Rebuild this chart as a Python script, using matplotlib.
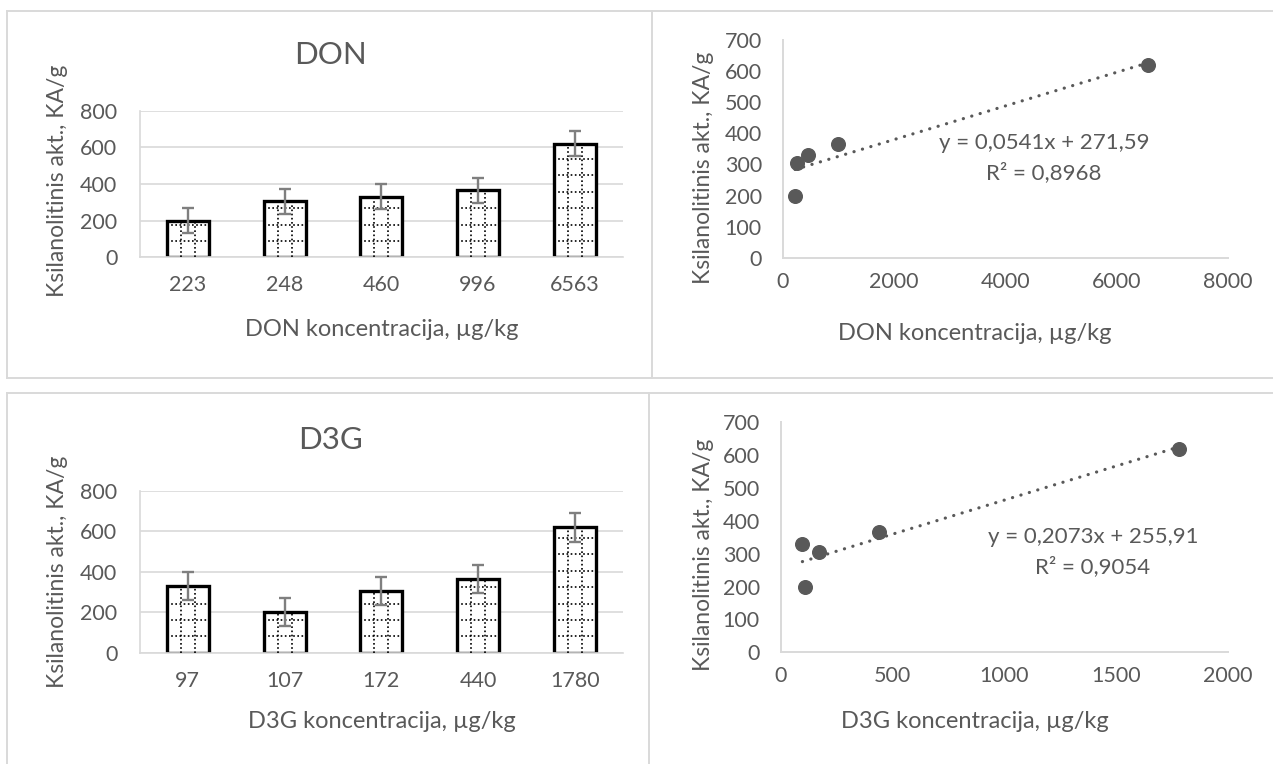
import numpy as np
import matplotlib
matplotlib.use("Agg")
import matplotlib.pyplot as plt
from matplotlib.lines import Line2D

# ---- data -------------------------------------------------------------
don_conc = [223, 248, 460, 996, 6563]
don_activity = [200, 305, 330, 365, 620]
don_err = [70, 68, 68, 70, 70]
don_fit = (0.0541, 271.59)
don_r2 = 0.8968

d3g_conc = [97, 107, 172, 440, 1780]
d3g_activity = [330, 200, 305, 365, 620]
d3g_err = [68, 70, 68, 70, 70]
d3g_fit = (0.2073, 255.91)
d3g_r2 = 0.9054

y_label = "Ksilanolitinis akt., KA/g"
bar_yticks = [0, 200, 400, 600, 800]
scatter_yticks = [0, 100, 200, 300, 400, 500, 600, 700]
don_xticks = [0, 2000, 4000, 6000, 8000]
d3g_xticks = [0, 500, 1000, 1500, 2000]

# ---- style ------------------------------------------------------------
W, H = 1273, 764
TEXT = "#595959"
GRID = "#d9d9d9"
plt.rcParams["font.family"] = ["Lato", "DejaVu Sans"]
TICK_FS = 15.5
LABEL_FS = 17
YLABEL_FS = 16.5
EQ_FS = 16
TITLE_FS = 22.5

fig = plt.figure(figsize=(W / 100, H / 100), dpi=100)
fig.patch.set_facecolor("white")


def fx(px):
    return px / W


def fy(py):
    return 1 - py / H


def add_axes(left, top, right, bottom):
    return fig.add_axes([fx(left), fy(bottom), fx(right) - fx(left), (bottom - top) / H])


def fig_line(x0, y0, x1, y1):
    fig.add_artist(Line2D([fx(x0), fx(x1)], [fy(y0), fy(y1)], color=GRID,
                          lw=1.4, transform=fig.transFigure))


# panel frames
fig_line(7, 11, W, 11)
fig_line(7, 11, 7, 378)
fig_line(7, 378, W, 378)
fig_line(652, 11, 652, 378)
fig_line(7, 392.5, W, 392.5)
fig_line(7, 392.5, 7, H)
fig_line(649, 392.5, 649, H)


def bar_panel(ax, cats, vals, errs):
    pos = np.arange(len(cats))
    ax.set_xlim(-0.5, len(cats) - 0.5)
    ax.set_ylim(0, 800)
    ax.set_yticks(bar_yticks)
    ax.set_xticks(pos)
    ax.set_xticklabels([str(c) for c in cats])
    ax.yaxis.grid(True, color=GRID, lw=1.2)
    ax.set_axisbelow(True)
    for s in ("top", "right"):
        ax.spines[s].set_visible(False)
    for s in ("left", "bottom"):
        ax.spines[s].set_color(GRID)
        ax.spines[s].set_linewidth(1.2)
    ax.tick_params(axis="both", length=0, labelsize=TICK_FS, labelcolor=TEXT)
    ax.tick_params(axis="y", pad=16)
    ax.tick_params(axis="x", pad=13)

    bars = ax.bar(pos, vals, width=0.435, facecolor="white", edgecolor="black",
                  linewidth=2.4, zorder=2)
    # dotted grid texture inside each bar
    fig.canvas.draw()
    ax_h_px = ax.get_window_extent().height
    step = 16.4 * 800 / ax_h_px
    for b in bars:
        x0, w, h = b.get_x(), b.get_width(), b.get_height()
        for frac in (1 / 3, 2 / 3):
            ax.plot([x0 + w * frac] * 2, [0, h], color="black", lw=1.2,
                    ls=(0, (1, 1.5)), zorder=3)
        levels = np.arange(step, h - step * 0.2, step)
        ax.hlines(levels, x0, x0 + w, color="black", lw=1.2,
                  linestyles=[(0, (1, 1.5))], zorder=3)
    ax.errorbar(pos, vals, yerr=errs, fmt="none", ecolor="#7f7f7f",
                elinewidth=1.7, capsize=4.2, capthick=1.7, zorder=4)


def scatter_panel(ax, x, y, fit, r2, xticks, text_xy):
    ax.set_xlim(xticks[0], xticks[-1])
    ax.set_ylim(0, 700)
    ax.set_xticks(xticks)
    ax.set_yticks(scatter_yticks)
    for s in ("top", "right"):
        ax.spines[s].set_visible(False)
    for s in ("left", "bottom"):
        ax.spines[s].set_color(GRID)
        ax.spines[s].set_linewidth(1.4)
    ax.tick_params(axis="both", length=0, labelsize=TICK_FS, labelcolor=TEXT)
    ax.tick_params(axis="y", pad=15)
    ax.tick_params(axis="x", pad=10)
    slope, icpt = fit
    xs = np.array([min(x), max(x)])
    ax.plot(xs, slope * xs + icpt, color=TEXT, lw=2.3, ls=(0, (0.05, 2.7)),
            dash_capstyle="round", zorder=2, clip_on=False)
    ax.plot(x, y, "o", color=TEXT, ms=9.8, zorder=3, clip_on=False)
    eq = f"y = {slope:.4f}x + {icpt:.2f}".replace(".", ",")
    r2_txt = f"R² = {r2:.4f}".replace(".", ",")
    fig.text(fx(text_xy[0]), fy(text_xy[1]), eq, ha="center", va="center",
             fontsize=EQ_FS, color=TEXT)
    fig.text(fx(text_xy[0]), fy(text_xy[1] + 29.5), r2_txt, ha="center",
             va="center", fontsize=EQ_FS, color=TEXT)


# ---- DON row ------------------------------------------------------------
ax1 = add_axes(139.5, 110.6, 623, 257.3)
bar_panel(ax1, don_conc, don_activity, don_err)
fig.text(fx(330), fy(55), "DON", ha="center", va="center", fontsize=TITLE_FS, color=TEXT)
fig.text(fx(58), fy(181), y_label, rotation=90, ha="center", va="center",
         fontsize=YLABEL_FS, color=TEXT)
fig.text(fx(382), fy(330), "DON koncentracija, µg/kg", ha="center", va="center",
         fontsize=LABEL_FS, color=TEXT)

ax2 = add_axes(782.7, 40, 1228, 257.7)
scatter_panel(ax2, don_conc, don_activity, don_fit, don_r2, don_xticks, (1044, 143))
fig.text(fx(703), fy(168), y_label, rotation=90, ha="center", va="center",
         fontsize=YLABEL_FS, color=TEXT)
fig.text(fx(975), fy(333), "DON koncentracija, µg/kg", ha="center", va="center",
         fontsize=LABEL_FS, color=TEXT)

# ---- D3G row ------------------------------------------------------------
ax3 = add_axes(139.5, 491, 623, 652.7)
bar_panel(ax3, d3g_conc, d3g_activity, d3g_err)
fig.text(fx(330), fy(440), "D3G", ha="center", va="center", fontsize=TITLE_FS, color=TEXT)
fig.text(fx(58), fy(572), y_label, rotation=90, ha="center", va="center",
         fontsize=YLABEL_FS, color=TEXT)
fig.text(fx(382), fy(722), "D3G koncentracija, µg/kg", ha="center", va="center",
         fontsize=LABEL_FS, color=TEXT)

ax4 = add_axes(780.7, 422.3, 1228, 652.3)
scatter_panel(ax4, d3g_conc, d3g_activity, d3g_fit, d3g_r2, d3g_xticks, (1093, 537))
fig.text(fx(703), fy(555), y_label, rotation=90, ha="center", va="center",
         fontsize=YLABEL_FS, color=TEXT)
fig.text(fx(975), fy(722), "D3G koncentracija, µg/kg", ha="center", va="center",
         fontsize=LABEL_FS, color=TEXT)

fig.savefig("out.png", dpi=100, facecolor="white")
